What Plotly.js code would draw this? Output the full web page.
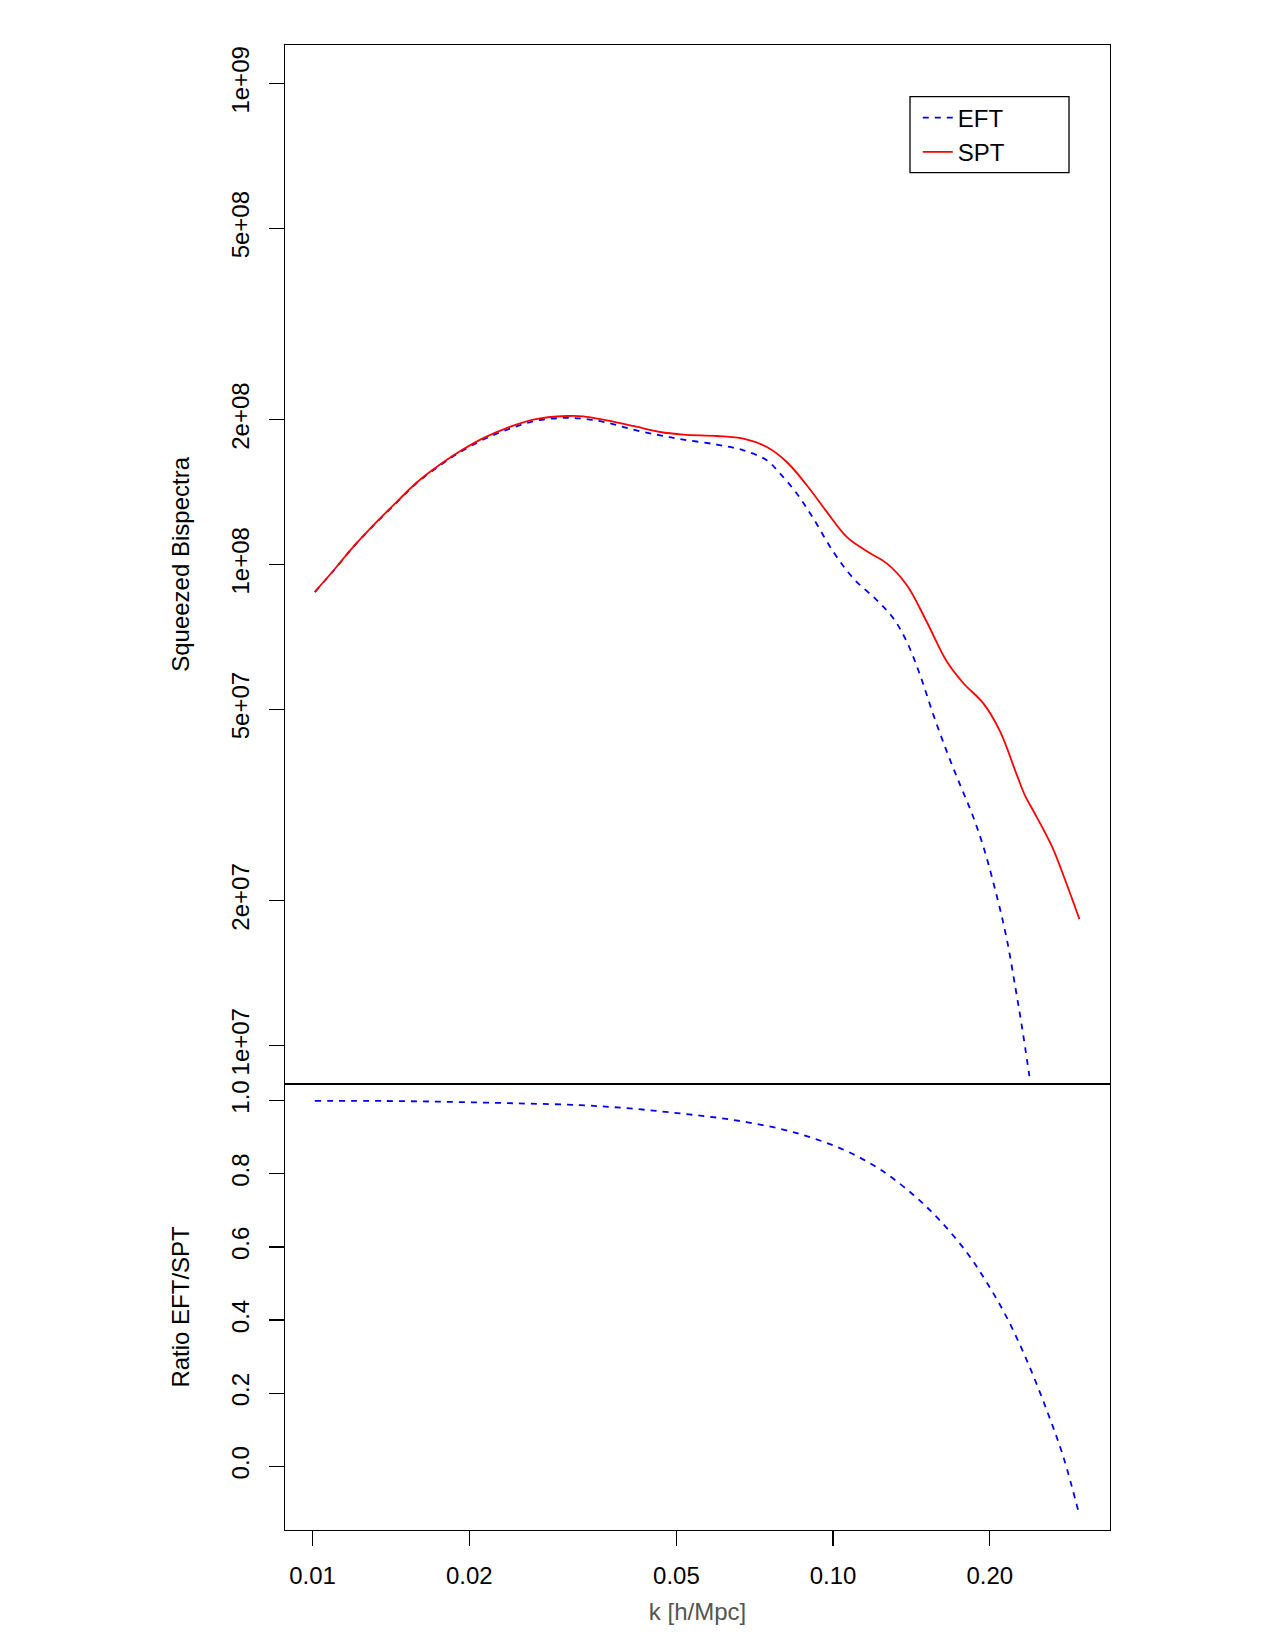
<!DOCTYPE html>
<html>
<head>
<meta charset="utf-8">
<script src="https://cdn.plot.ly/plotly-3.0.1.min.js"></script>
<style>html,body{margin:0;padding:0;background:#fff}#chart{width:1275px;height:1650px}</style>
</head>
<body>
<div id="chart"></div>
<script>
// ---- data ----
const kSPT = [0.0101, 0.01096, 0.01197, 0.01308, 0.01451, 0.01585, 0.01757, 0.01919, 0.02128, 0.0236, 0.02655, 0.03078, 0.03313, 0.03674, 0.04133, 0.04651, 0.05157, 0.05976, 0.06724, 0.07458, 0.08147, 0.08903, 0.09725, 0.1062, 0.1161, 0.1268, 0.1385, 0.1513, 0.1654, 0.178, 0.1944, 0.2094, 0.2254, 0.2339, 0.2426, 0.2536, 0.2651, 0.2812, 0.2973];
const bSPT = [8.77e7, 9.70e7, 1.088e8, 1.206e8, 1.349e8, 1.480e8, 1.613e8, 1.719e8, 1.831e8, 1.921e8, 2.000e8, 2.035e8, 2.032e8, 1.993e8, 1.940e8, 1.885e8, 1.862e8, 1.849e8, 1.826e8, 1.754e8, 1.633e8, 1.461e8, 1.286e8, 1.141e8, 1.065e8, 1.005e8, 9.06e7, 7.60e7, 6.28e7, 5.66e7, 5.14e7, 4.49e7, 3.65e7, 3.30e7, 3.07e7, 2.81e7, 2.55e7, 2.16e7, 1.83e7];

const kEFT = [0.0101, 0.01096, 0.01197, 0.01308, 0.01451, 0.01585, 0.01757, 0.01919, 0.02128, 0.0236, 0.02655, 0.02987, 0.03313, 0.03674, 0.04133, 0.04651, 0.05157, 0.05976, 0.06724, 0.07458, 0.0791, 0.08517, 0.09168, 0.1001, 0.1094, 0.1213, 0.1306, 0.1385, 0.1469, 0.1559, 0.1654, 0.1754, 0.1847, 0.1944, 0.2064, 0.2157, 0.2237, 0.2305, 0.2383];
const bEFT = [8.76e7, 9.69e7, 1.087e8, 1.204e8, 1.346e8, 1.476e8, 1.607e8, 1.711e8, 1.818e8, 1.905e8, 1.984e8, 2.015e8, 2.009e8, 1.972e8, 1.906e8, 1.855e8, 1.818e8, 1.775e8, 1.727e8, 1.646e8, 1.545e8, 1.404e8, 1.245e8, 1.062e8, 9.35e7, 8.43e7, 7.72e7, 6.91e7, 5.89e7, 4.86e7, 4.08e7, 3.48e7, 3.04e7, 2.59e7, 2.04e7, 1.66e7, 1.33e7, 1.096e7, 8.63e6];

const kRatio = [0.0101, 0.01377, 0.01851, 0.02484, 0.03264, 0.04073, 0.05082, 0.06342, 0.0791, 0.09168, 0.1062, 0.1231, 0.1427, 0.1606, 0.1807, 0.1974, 0.2157, 0.2356, 0.2574, 0.277, 0.297];
const ratioEFTSPT = [0.9995, 0.999, 0.9965, 0.9925, 0.9877, 0.9786, 0.965, 0.9485, 0.923, 0.897, 0.862, 0.812, 0.742, 0.6714, 0.5847, 0.5026, 0.4068, 0.29, 0.1532, 0.0254, -0.131];

const xTickVals = [0.01, 0.02, 0.05, 0.1, 0.2];
const xTickText = ["0.01", "0.02", "0.05", "0.10", "0.20"];
const bTickVals = [1e7, 2e7, 5e7, 1e8, 2e8, 5e8, 1e9];
const bTickText = ["1e+07", "2e+07", "5e+07", "1e+08", "2e+08", "5e+08", "1e+09"];
const rTickVals = [0, 0.2, 0.4, 0.6, 0.8, 1.0];
const rTickText = ["0.0", "0.2", "0.4", "0.6", "0.8", "1.0"];

// ---- styling ----
const FONT = 'Liberation Sans, Arial, Helvetica, sans-serif';
const tickFont = {family: FONT, size: 24, color: '#000'};
const axisBase = {
  showline: true, linecolor: '#000', linewidth: 1.3, mirror: true,
  showgrid: false, zeroline: false,
  ticks: 'outside', ticklen: 15, tickwidth: 1.3, tickcolor: '#000',
  tickfont: tickFont
};
const splitY = 0.30047;
const lineStyle = {width: 1.8, shape: 'spline', smoothing: 1};

const traces = [
  {x: kEFT, y: bEFT, xaxis: 'x', yaxis: 'y', type: 'scatter', mode: 'lines', name: 'EFT',
   line: Object.assign({color: '#0000ff', dash: '6px,6px'}, lineStyle)},
  {x: kSPT, y: bSPT, xaxis: 'x', yaxis: 'y', type: 'scatter', mode: 'lines', name: 'SPT',
   line: Object.assign({color: '#ff0000'}, lineStyle)},
  {x: kRatio, y: ratioEFTSPT, xaxis: 'x2', yaxis: 'y2', type: 'scatter', mode: 'lines', name: 'Ratio',
   showlegend: false,
   line: Object.assign({color: '#0000ff', dash: '6px,6px'}, lineStyle)}
];

const layout = {
  width: 1275, height: 1650,
  margin: {l: 285, r: 165, t: 45, b: 120},
  paper_bgcolor: '#fff', plot_bgcolor: '#fff',
  font: {family: FONT, size: 24, color: '#000'},
  showlegend: true,
  xaxis: Object.assign({}, axisBase, {
    type: 'log', range: [-2.053, -0.468], domain: [0, 1], anchor: 'y',
    ticks: '', showticklabels: false
  }),
  yaxis: Object.assign({}, axisBase, {
    type: 'log', range: [6.92, 9.08], domain: [splitY, 1], anchor: 'x',
    tickmode: 'array', tickvals: bTickVals, ticktext: bTickText, tickangle: -90, ticklabelstandoff: 10,
    title: {text: 'Squeezed Bispectra', font: {family: FONT, size: 24, color: '#000'}, standoff: 30}
  }),
  xaxis2: Object.assign({}, axisBase, {
    type: 'log', range: [-2.053, -0.468], domain: [0, 1], anchor: 'y2',
    tickmode: 'array', tickvals: xTickVals, ticktext: xTickText, ticklabelstandoff: 9,
    title: {text: 'k [h/Mpc]', font: {family: FONT, size: 24, color: '#555'}, standoff: 15}
  }),
  yaxis2: Object.assign({}, axisBase, {
    range: [-0.174, 1.046], domain: [0, splitY], anchor: 'x2',
    tickmode: 'array', tickvals: rTickVals, ticktext: rTickText, tickangle: -90, ticklabelstandoff: 10,
    title: {text: 'Ratio EFT/SPT', font: {family: FONT, size: 24, color: '#000'}, standoff: 30}
  }),
  legend: {
    x: 0.767, y: 0.966, xanchor: 'left', yanchor: 'top',
    bgcolor: 'rgba(0,0,0,0)', borderwidth: 0,
    font: {family: FONT, size: 24, color: '#000'}
  },
  shapes: [
    {type: 'rect', xref: 'paper', yref: 'paper', x0: 0.75758, x1: 0.95030, y0: 0.91401, y1: 0.96519,
     line: {color: '#000', width: 1.3}, fillcolor: 'rgba(0,0,0,0)'}
  ]
};

Plotly.newPlot('chart', traces, layout, {staticPlot: true, displayModeBar: false});
</script>
</body>
</html>
